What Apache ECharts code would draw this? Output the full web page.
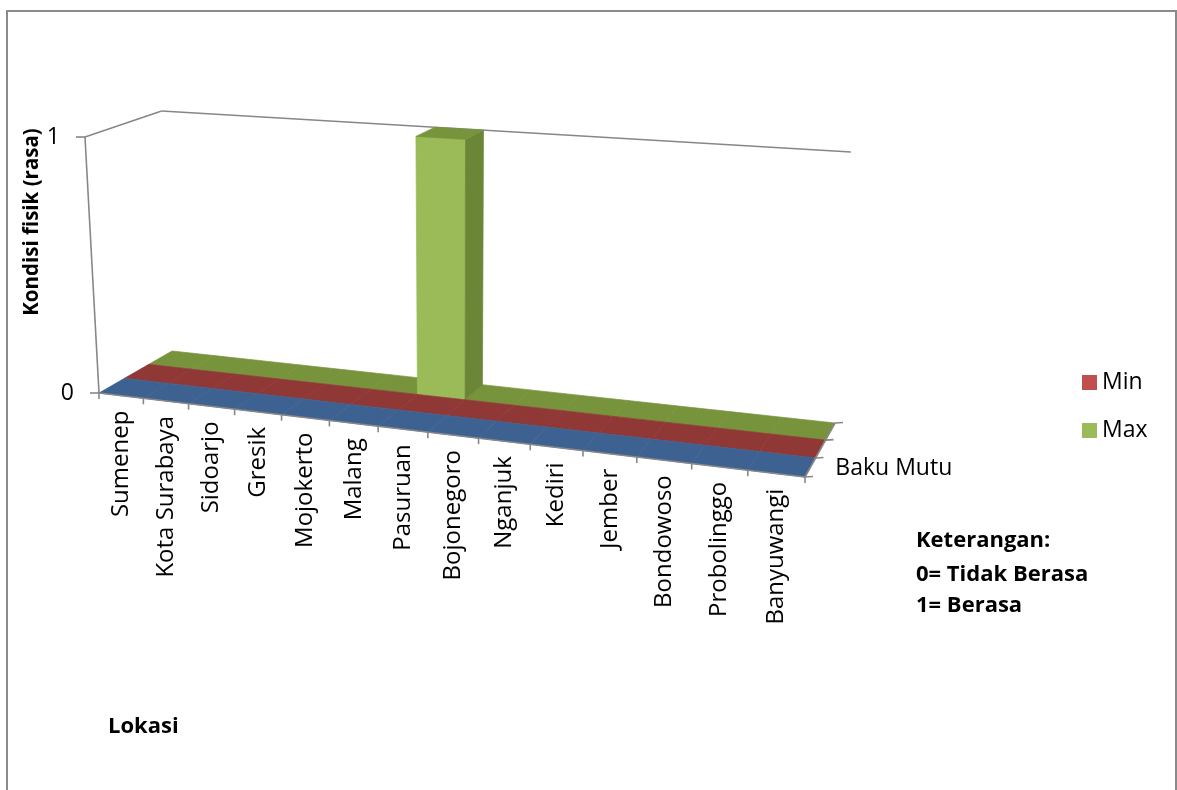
<!DOCTYPE html>
<html>
<head>
<meta charset="utf-8">
<script src="https://cdn.jsdelivr.net/npm/echarts@6/dist/echarts.min.js"></script>
<style>
html,body{margin:0;padding:0;background:#fff;}
#chart{width:1177px;height:790px;}
</style>
</head>
<body>
<div id="chart"></div>
<script>
// ---------------- DATA ----------------
const categories = ['Sumenep','Kota Surabaya','Sidoarjo','Gresik','Mojokerto','Malang','Pasuruan','Bojonegoro','Nganjuk','Kediri','Jember','Bondowoso','Probolinggo','Banyuwangi'];
const seriesNames = ['Baku Mutu','Min','Max'];          // front row -> back row
const bakuMutuValues = [0,0,0,0,0,0,0,0,0,0,0,0,0,0];
const minValues      = [0,0,0,0,0,0,0,0,0,0,0,0,0,0];
const maxValues      = [0,0,0,0,0,0,1,0,0,0,0,0,0,0];
const yTicks = [0,1];
const legendItems = ['Min','Max'];
const depthLabels = ['Baku Mutu'];
const yAxisTitle = 'Kondisi fisik (rasa)';
const xAxisTitle = 'Lokasi';
const noteLines = ['Keterangan:','0= Tidak Berasa','1= Berasa'];

// ---------------- LAYOUT (3D frame geometry) ----------------
// floor quad corners for (u,d) = (0,0),(1,0),(1,1),(0,1)
const FLOOR = [[99,393],[805,477],[835,423],[172,351]];
const VERT_VP = [455,6900];     // vanishing point of vertical edges
const AXIS_TOP_Y = 137;         // screen y of the top of the front-left vertical axis
const FONT = '"Open Sans", "Noto Sans", sans-serif';
const AXIS_COLOR = '#878787';
const TXT = '#000000';

function floorMatrix(q){
  const [x0,y0]=q[0],[x1,y1]=q[1],[x2,y2]=q[2],[x3,y3]=q[3];
  const dx1=x1-x2, dx2=x3-x2, dx3=x0-x1+x2-x3;
  const dy1=y1-y2, dy2=y3-y2, dy3=y0-y1+y2-y3;
  const den=dx1*dy2-dy1*dx2;
  const g=(dx3*dy2-dy3*dx2)/den;
  const h=(dx1*dy3-dy1*dx3)/den;
  return {a:x1-x0+g*x1, b:x3-x0+h*x3, c:x0, d:y1-y0+g*y1, e:y3-y0+h*y3, f:y0, g:g, h:h};
}
const M=floorMatrix(FLOOR);
const LAM=(M.f-AXIS_TOP_Y)/(AXIS_TOP_Y-VERT_VP[1]);
// perspective projection of (u along categories, d depth, h height) -> screen
function P(u,d,hh){
  const X=M.a*u+M.b*d+M.c+LAM*VERT_VP[0]*hh;
  const Y=M.d*u+M.e*d+M.f+LAM*VERT_VP[1]*hh;
  const W=M.g*u+M.h*d+1+LAM*hh;
  return [X/W,Y/W];
}
const NROWS = seriesNames.length;

function bandOf(params, api, i, val){
  const cs=params.coordSys;
  const c=api.coord([i,val]);
  const half=api.size([1,0])[0]/2;
  return {
    u0:(c[0]-half-cs.x)/cs.width,
    u1:(c[0]+half-cs.x)/cs.width,
    uc:(c[0]-cs.x)/cs.width,
    h:(cs.y+cs.height-c[1])/cs.height
  };
}
function hOf(params, api, val){
  const cs=params.coordSys;
  const c=api.coord([0,val]);
  return (cs.y+cs.height-c[1])/cs.height;
}
function line(p1,p2,w){
  return {type:'line',shape:{x1:p1[0],y1:p1[1],x2:p2[0],y2:p2[1]},style:{stroke:AXIS_COLOR,lineWidth:w||1.6}};
}
function poly(pts,fill,z2){
  return {type:'polygon',z2:z2||0,shape:{points:pts},style:{fill:fill,stroke:fill,lineWidth:0.7}};
}

const rowColors = [
  {top:'#3d6291', front:'#4f81bd', side:'#385d8a'},
  {top:'#8f3836', front:'#c0504d', side:'#8c3836'},
  {top:'#77933c', front:'#9bbb59', side:'#6b8636'}
];
const rowValues = [bakuMutuValues, minValues, maxValues];
const legendColors = ['#4f81bd','#c0504d','#9bbb59'];

function makeRowRender(k){
  return function(params, api){
    const i=api.value(0), v=api.value(1);
    const b=bandOf(params, api, i, v);
    const d0=k/NROWS, d1=(k+1)/NROWS;
    const col=rowColors[k];
    const children=[];
    const z=b.h>0?10:0;
    if(b.h>0){
      children.push(poly([P(b.u0,d0,0),P(b.u1,d0,0),P(b.u1,d0,b.h),P(b.u0,d0,b.h)],col.front,z));
      children.push(poly([P(b.u1,d0,0),P(b.u1,d1,0),P(b.u1,d1,b.h),P(b.u1,d0,b.h)],col.side,z));
    }
    children.push(poly([P(b.u0,d0,b.h),P(b.u1,d0,b.h),P(b.u1,d1,b.h),P(b.u0,d1,b.h)],col.top,z));
    return {type:'group',children:children};
  };
}

// frame behind the data: walls' top edges, value axis
function renderBackFrame(params, api){
  const ch=[];
  const hTop=hOf(params, api, yTicks[yTicks.length-1]);
  ch.push(line(P(0,0,hTop),P(0,1,hTop)));
  ch.push(line(P(0,1,hTop),P(1,1,hTop)));
  ch.push(line(P(0,0,0),P(0,0,hTop)));
  yTicks.forEach(function(t){
    const p=P(0,0,hOf(params, api, t));
    ch.push(line([p[0]-9,p[1]],p));
    ch.push({type:'text',x:p[0]-25,y:p[1],style:{text:String(t),fill:TXT,font:'23px '+FONT,align:'right',verticalAlign:'middle'}});
  });
  return {type:'group',children:ch};
}
// frame in front of the data: category axis & depth axis
function renderFrontFrame(params, api){
  const ch=[];
  ch.push(line(P(0,0,0),P(1,0,0)));
  const n=categories.length;
  for(let j=0;j<n;j++){
    const b=bandOf(params, api, j, 0);
    const p=P(b.u0,0,0);
    ch.push(line(p,[p[0],p[1]+6]));
    if(j===n-1){ const q=P(b.u1,0,0); ch.push(line(q,[q[0],q[1]+6])); }
    const c=P(b.uc,0,0);
    ch.push({type:'text',x:c[0],y:c[1]+15,rotation:Math.PI/2,style:{text:categories[j],fill:TXT,font:'24px '+FONT,align:'right',verticalAlign:'middle'}});
  }
  ch.push(line(P(1,0,0),P(1,1,0)));
  for(let k=0;k<=NROWS;k++){
    const p=P(1,k/NROWS,0);
    ch.push(line(p,[p[0]+8,p[1]-0.5]));
  }
  depthLabels.forEach(function(lbl){
    const k=seriesNames.indexOf(lbl);
    const p=P(1,(k+0.5)/NROWS,0);
    ch.push({type:'text',x:p[0]+25,y:p[1]+1,style:{text:lbl,fill:TXT,font:'23px '+FONT,align:'left',verticalAlign:'middle'}});
  });
  return {type:'group',children:ch};
}

const series=[];
series.push({type:'custom',name:'frameBack',silent:true,z:1,data:[[0,0]],renderItem:renderBackFrame});
for(let k=NROWS-1;k>=0;k--){
  series.push({
    type:'custom',
    name:seriesNames[k],
    z:5+(NROWS-k),
    itemStyle:{color:legendColors[k]},
    data:rowValues[k].map(function(v,i){return [i,v];}),
    encode:{x:0,y:1},
    renderItem:makeRowRender(k)
  });
}
series.push({type:'custom',name:'frameFront',silent:true,z:20,data:[[0,0]],renderItem:renderFrontFrame});

const chart=echarts.init(document.getElementById('chart'),null,{renderer:'canvas'});
chart.setOption({
  animation:false,
  backgroundColor:'#ffffff',
  grid:{left:100,top:100,width:700,height:300,show:false},
  xAxis:{type:'category',data:categories,show:false,boundaryGap:true},
  yAxis:{type:'value',min:0,max:1,interval:1,show:false},
  legend:{
    data:legendItems,orient:'vertical',left:1082,top:371,icon:'rect',padding:0,
    itemWidth:15,itemHeight:15,itemGap:25,
    textStyle:{fontSize:23,fontFamily:FONT,color:TXT}
  },
  graphic:[
    {type:'rect',shape:{x:7,y:11,width:1169,height:900},style:{fill:'none',stroke:'#8a8a8a',lineWidth:2},silent:true},
    {type:'text',x:32,y:222,rotation:Math.PI/2,style:{text:yAxisTitle,fill:TXT,font:'bold 20.5px '+FONT,align:'center',verticalAlign:'middle'}},
    {type:'text',x:108,y:727,style:{text:xAxisTitle,fill:TXT,font:'bold 22px '+FONT,align:'left',verticalAlign:'middle'}},
    {type:'text',x:916,y:541,style:{text:noteLines[0],fill:TXT,font:'bold 22px '+FONT,align:'left',verticalAlign:'middle'}},
    {type:'text',x:916,y:575,style:{text:noteLines[1],fill:TXT,font:'bold 22px '+FONT,align:'left',verticalAlign:'middle'}},
    {type:'text',x:916,y:606,style:{text:noteLines[2],fill:TXT,font:'bold 22px '+FONT,align:'left',verticalAlign:'middle'}}
  ],
  series:series
});
</script>
</body>
</html>
